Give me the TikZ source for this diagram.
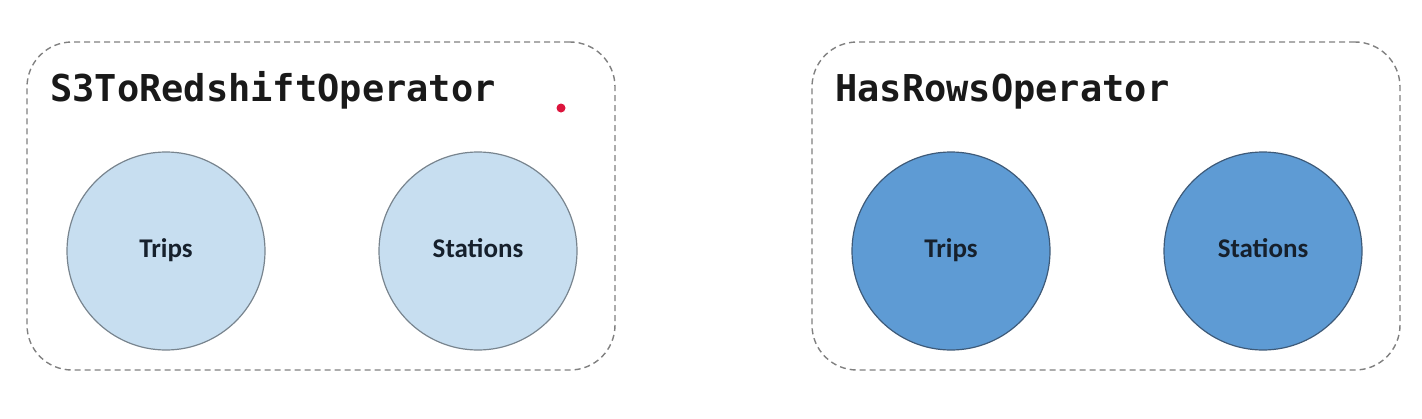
\documentclass[tikz,border=0pt]{standalone}
\usepackage{fontspec}
\setmainfont{Carlito}
\newfontfamily\opfont{DejaVu Sans Mono}
\usetikzlibrary{positioning}
\definecolor{boxgray}{RGB}{128,128,128}
\definecolor{lightfill}{RGB}{199,222,240}
\definecolor{lightedge}{RGB}{120,132,142}
\definecolor{darkfill}{RGB}{94,155,212}
\definecolor{darkedge}{RGB}{62,90,120}
\definecolor{labelink}{RGB}{22,32,44}
\definecolor{pointer}{RGB}{220,20,60}

\begin{document}
\begin{tikzpicture}[x=1pt,y=-1pt,
  opbox/.style={draw=boxgray,line width=1.4pt,dash pattern=on 6pt off 4pt,rounded corners=45pt,minimum width=588pt,minimum height=328pt,inner sep=0pt},
  optitle/.style={anchor=base west,inner sep=0pt,font=\opfont\bfseries\fontsize{37}{40}\selectfont,text=black!90},
  tbl/.style={circle,minimum size=198pt,inner sep=0pt,line width=1.2pt,text height=19pt,text depth=6pt,font=\bfseries\fontsize{27}{30}\selectfont,text=labelink}]
  \useasboundingbox (0,0) rectangle (1422,418);
  % one box per operator
  \foreach \x/\op/\name/\fil/\edg in {0/S3ToRedshiftOperator/s3/lightfill/lightedge,785/HasRowsOperator/rows/darkfill/darkedge}{
    \node[opbox] (box-\name) at (\x+321,206) {};
    \node[optitle] (title-\name) at (\x+50,101) {\op};
    \node[tbl,draw=\edg,fill=\fil] (trips-\name) at (\x+166,251) {Trips};
    \node[tbl,draw=\edg,fill=\fil] (stations-\name) at (\x+478,251) {Stations};
  }
  \node[circle,fill=pointer,minimum size=9pt,inner sep=0pt] (dot) at (561,108) {};
\end{tikzpicture}
\end{document}
